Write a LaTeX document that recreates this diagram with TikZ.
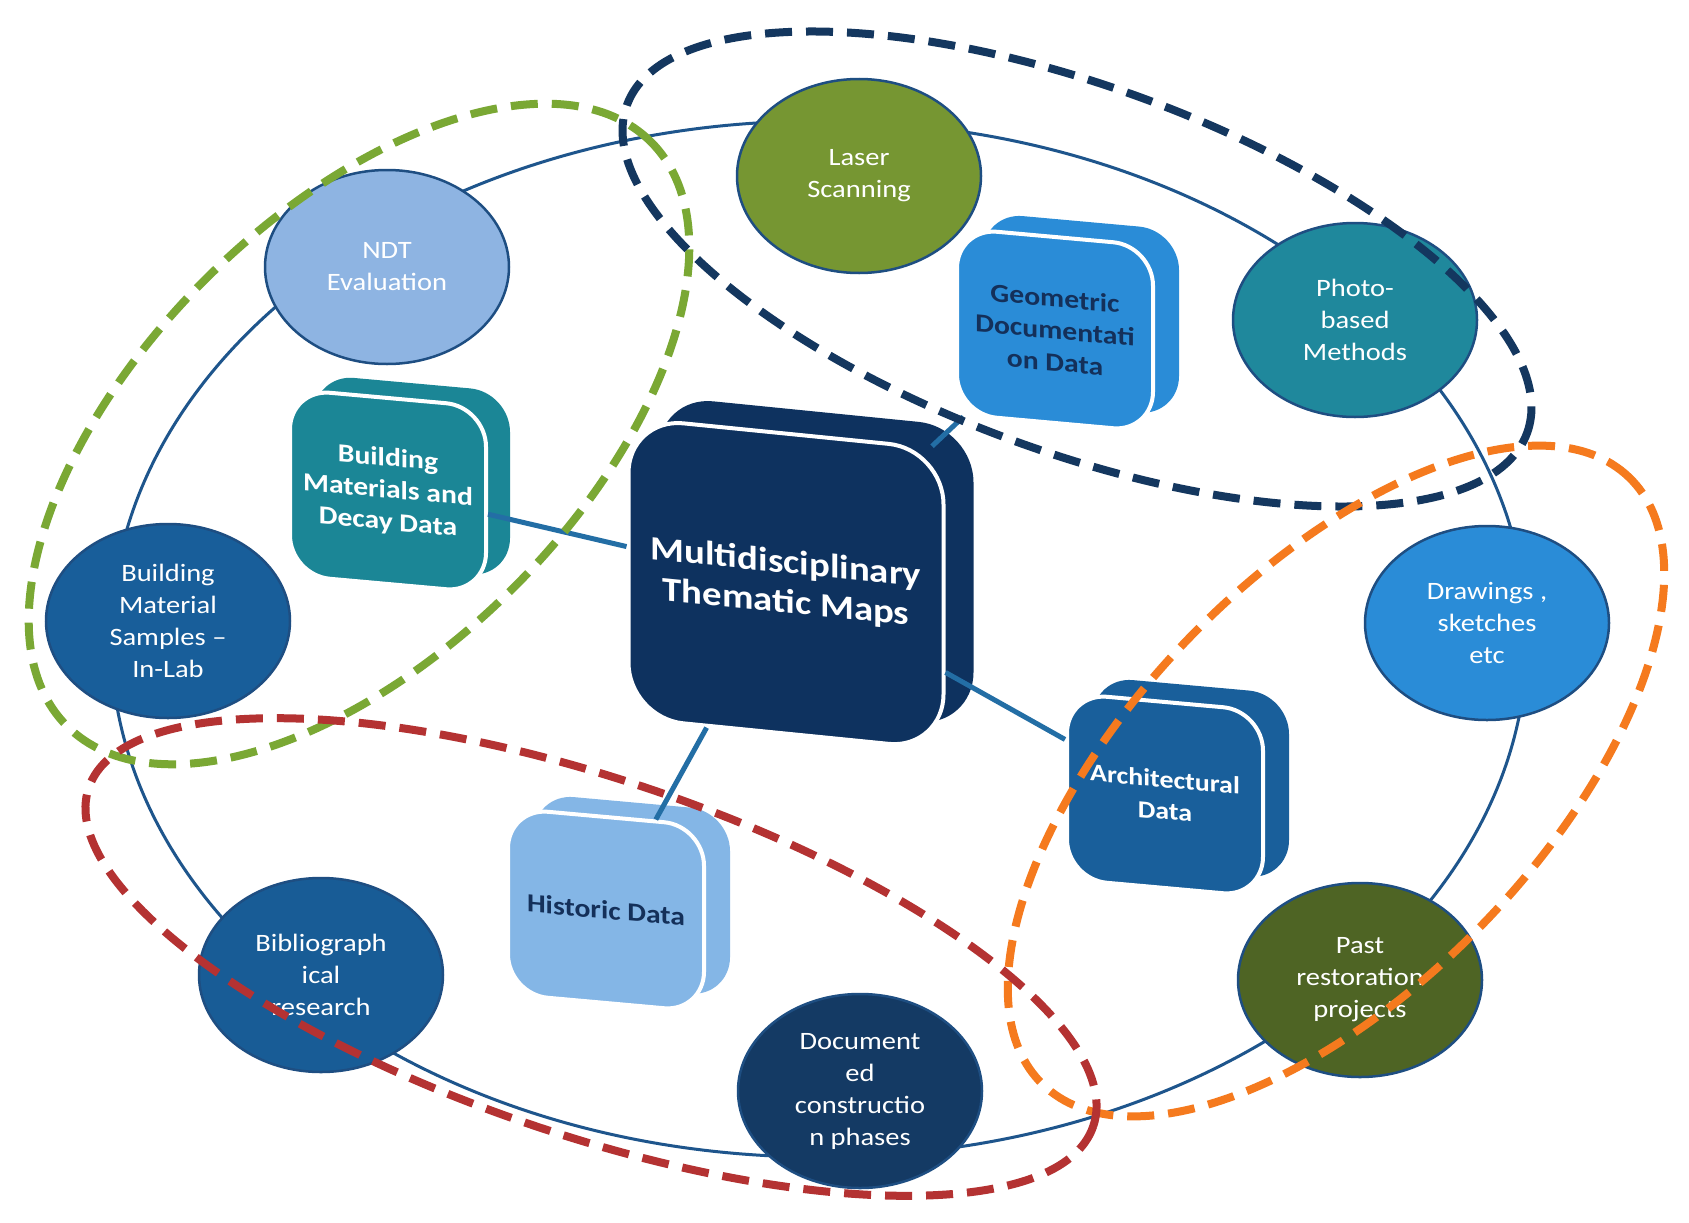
\documentclass[tikz,border=0pt]{standalone}
\usepackage{fontspec}
\setmainfont{Carlito}[FakeStretch=1.14]
\usetikzlibrary{shapes.geometric}
\definecolor{outerline}{RGB}{30,85,140}
\definecolor{circline}{RGB}{30,78,130}
\definecolor{cLaser}{RGB}{118,150,50}
\definecolor{cNDT}{RGB}{142,180,226}
\definecolor{cPhoto}{RGB}{31,136,156}
\definecolor{cBMS}{RGB}{24,94,154}
\definecolor{cDraw}{RGB}{42,140,215}
\definecolor{cPast}{RGB}{78,100,36}
\definecolor{cBib}{RGB}{24,92,150}
\definecolor{cDoc}{RGB}{20,58,100}
\definecolor{bCentral}{RGB}{14,50,95}
\definecolor{bBM}{RGB}{27,134,150}
\definecolor{bGeo}{RGB}{42,140,215}
\definecolor{bArch}{RGB}{25,95,155}
\definecolor{bHist}{RGB}{132,182,230}
\definecolor{navytext}{RGB}{20,48,90}
\definecolor{conncol}{RGB}{35,110,165}
\definecolor{dGreen}{RGB}{122,168,52}
\definecolor{dNavy}{RGB}{20,55,95}
\definecolor{dOrange}{RGB}{245,122,30}
\definecolor{dRed}{RGB}{180,50,50}
\begin{document}
\begin{tikzpicture}[x=1pt,y=-1pt,
  circ/.style={ellipse, minimum width=244pt, minimum height=194pt, inner sep=0pt,
    draw=circline, line width=2.5pt, text=white, align=center,
    font=\fontsize{25}{32}\selectfont},
  boxfront/.style={rectangle, rounded corners=40pt, minimum width=196pt, minimum height=186pt,
    inner sep=0pt, draw=white, line width=4pt, align=center, text=white,
    font=\bfseries\fontsize{26}{32}\selectfont},
  boxback/.style={rectangle, rounded corners=40pt, minimum width=196pt, minimum height=186pt,
    inner sep=0pt},
  conn/.style={draw=conncol, line width=5pt},
  group/.style={line width=8pt, dash pattern=on 27pt off 14pt},
  outer/.style={draw=outerline, line width=3pt}]
\useasboundingbox[fill=white] (0,0) rectangle (1689,1223);

% outer ring
\draw[outer] (819,639) ellipse [x radius=708pt, y radius=518pt];

% circles
\node[circ, fill=cLaser] (laser) at (859,176) {Laser\\Scanning};
\node[circ, fill=cNDT] (ndt) at (387,267) {NDT\\Evaluation};
\node[circ, fill=cPhoto] (photo) at (1355,320) {Photo-\\based\\Methods};
\node[circ, fill=cBMS] (bms) at (168,621) {Building\\Material\\Samples --\\In-Lab};
\node[circ, fill=cDraw] (draw) at (1487,623) {Drawings ,\\sketches\\etc};
\node[circ, fill=cPast] (past) at (1360,980) {Past\\restoration\\projects};
\node[circ, fill=cBib] (bib) at (321,975) {Bibliograph\\ical\\research};
\node[circ, fill=cDoc] (doc) at (860,1091) {Document\\ed\\constructio\\n phases};

% boxes
\begin{scope}[shift={(790,578)}, yslant=-0.1]
  \node[boxback, transform shape, fill=bCentral, minimum width=315pt, minimum height=300pt, rounded corners=55pt] (centralback) at (26,-19) {};
  \node[boxfront, transform shape, fill=bCentral, minimum width=315pt, minimum height=300pt, rounded corners=55pt,
    font=\bfseries\fontsize{34}{40}\selectfont] (central) at (-4,6) {Multidisciplinary\\Thematic Maps};
\end{scope}
\begin{scope}[shift={(388,491)}, yslant=-0.09]
  \node[boxback, transform shape, fill=bBM] (bmback) at (24,-17) {};
  \node[boxfront, transform shape, fill=bBM] (bm) at (0,0) {Building\\Materials and\\Decay Data};
\end{scope}
\begin{scope}[shift={(1055,330)}, yslant=-0.09]
  \node[boxback, transform shape, fill=bGeo] (geoback) at (26,-18) {};
  \node[boxfront, transform shape, fill=bGeo, text=navytext] (geo) at (0,0) {Geometric\\Documentati\\on Data};
\end{scope}
\begin{scope}[shift={(1165,795)}, yslant=-0.09]
  \node[boxback, transform shape, fill=bArch] (archback) at (26,-19) {};
  \node[boxfront, transform shape, fill=bArch, font=\bfseries\fontsize{24.5}{32}\selectfont] (arch) at (0,0) {Architectural\\Data};
\end{scope}
\begin{scope}[shift={(606,910)}, yslant=-0.09]
  \node[boxback, transform shape, fill=bHist] (histback) at (26,-17) {};
  \node[boxfront, transform shape, fill=bHist, text=navytext] (hist) at (0,0) {Historic Data};
\end{scope}

% connectors
\draw[conn] (central) -- (bm);
\draw[conn] (central) -- (geo);
\draw[conn] (central) -- (arch);
\draw[conn] (central) -- (hist);

% dashed groupings
\draw[group, draw=dGreen, shift={(359,434)}, rotate=45] (0,0) ellipse [x radius=413pt, y radius=218pt];
\draw[group, draw=dNavy, shift={(1077,269)}, rotate=-20] (0,0) ellipse [x radius=479pt, y radius=183pt];
\draw[group, draw=dOrange, shift={(1336,781)}, rotate=46] (0,0) ellipse [x radius=422pt, y radius=205pt];
\draw[group, draw=dRed, shift={(591,957)}, rotate=-18.6] (0,0) ellipse [x radius=530pt, y radius=178pt];
\end{tikzpicture}
\end{document}
